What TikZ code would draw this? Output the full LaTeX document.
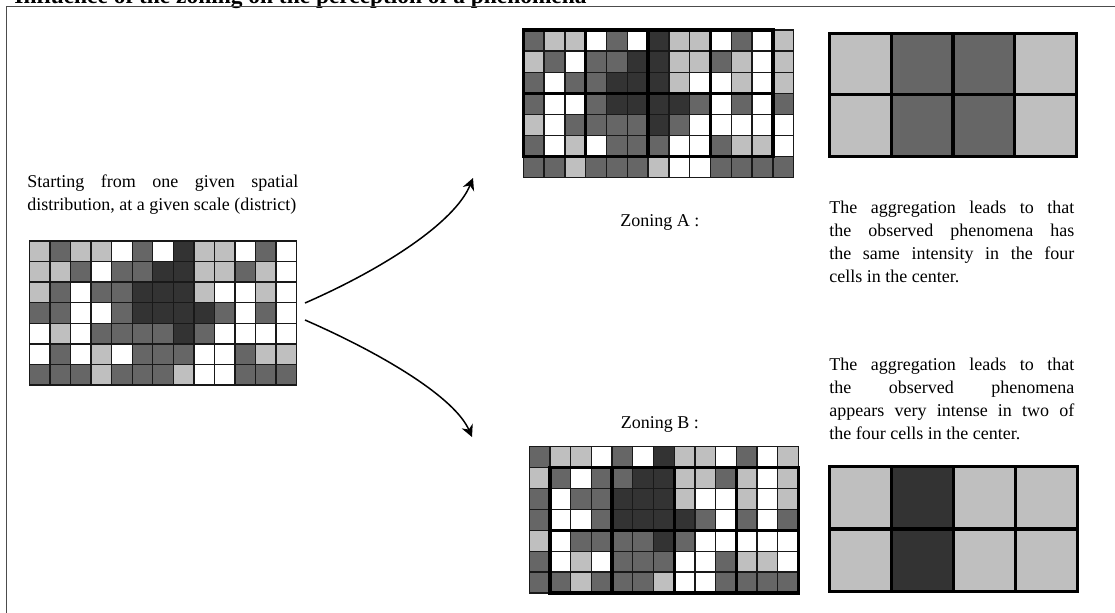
\documentclass[tikz,border=0pt]{standalone}
\usepackage{fontspec}
\setmainfont{Liberation Serif}
\usepackage{xcolor}
\usepackage{tikz}
\usetikzlibrary{arrows.meta}

\definecolor{gL}{gray}{0.75}
\definecolor{gM}{gray}{0.4}
\definecolor{gD}{gray}{0.2}
\definecolor{gW}{gray}{1}

% cell values of the district level, row by row
\newcommand{\basecells}{{L,M,L,L,W,M,W,D,L,L,W,M,W},{L,L,M,W,M,M,D,D,L,L,M,L,W},{L,M,W,M,M,D,D,D,L,W,W,L,W},{M,M,W,W,M,D,D,D,D,M,W,M,W},{W,L,W,M,M,M,M,D,M,W,W,W,W},{W,M,W,L,W,M,M,M,W,W,M,L,L},{M,M,M,L,M,M,M,L,W,W,M,M,M}}
\newcommand{\zonecells}{{M,L,L,W,M,W,D,L,L,W,M,W,L},{L,M,W,M,M,D,D,L,L,M,L,W,L},{M,W,M,M,D,D,D,L,W,W,L,W,L},{M,W,W,M,D,D,D,D,M,W,M,W,M},{L,W,M,M,M,M,D,M,W,W,W,W,W},{M,W,L,W,M,M,M,W,W,M,L,L,W},{M,M,L,M,M,M,L,W,W,M,M,M,M}}

\tikzset{
	cell/.style={draw=black!90, line width=0.65pt},
	block/.style={draw=black, line width=1.7pt},
	bigcell/.style={draw=black, line width=1.6pt},
	txt/.style={font=\fontsize{9}{11.65}\selectfont, inner sep=0pt},
	curvearrow/.style={line width=0.75pt, -{Stealth[length=6pt,width=6pt]}}
}

\begin{document}
\begin{tikzpicture}[x=0.5pt, y=-0.5pt]
		\useasboundingbox (0,0) rectangle (1115,612);
		\clip (0,0) rectangle (1115,612);

		% Title and frame
		\node[anchor=base west, inner sep=0pt, font=\fontsize{11.7}{14}\bfseries\selectfont] (title) at (14,3.5) {Influence of the zoning on the perception of a phenomena};
		\draw[black!70, line width=0.5pt] (6,620) -- (6,6) -- (1120,6);

		% Given distribution
		\node[txt, anchor=north west, text width=135.5pt, align=justify] (start) at (27,174) {Starting from one given spatial\linebreak distribution, at a given scale (district)};
		\begin{scope}[shift={(29.3,241)}, x=10.285pt, y=-10.285pt]
			\foreach \rowcells [count=\j] in \basecells {
				\foreach \c [count=\i] in \rowcells
					\filldraw[cell, fill=g\c] (\i-1,\j-1) rectangle (\i,\j);
			}
		\end{scope}

		% Zoning A
		\begin{scope}[shift={(523.3,30)}, x=10.4pt, y=-10.55pt]
			\foreach \rowcells [count=\j] in \zonecells {
				\foreach \c [count=\i] in \rowcells
					\filldraw[cell, fill=g\c] (\i-1,\j-1) rectangle (\i,\j);
			}
			\draw[block] (0,0) rectangle (12,6);
			\draw[block] (3,0) -- (3,6) (6,0) -- (6,6) (9,0) -- (9,6) (0,3) -- (12,3);
		\end{scope}
		\node[txt, anchor=base west] (zoneA) at (620,226) {Zoning A :};

		% Zoning B
		\begin{scope}[shift={(529.3,446.7)}, x=10.35pt, y=-10.45pt]
			\foreach \rowcells [count=\j] in \zonecells {
				\foreach \c [count=\i] in \rowcells
					\filldraw[cell, fill=g\c] (\i-1,\j-1) rectangle (\i,\j);
			}
			\draw[block] (1,1) rectangle (13,7);
			\draw[block] (4,1) -- (4,7) (7,1) -- (7,7) (10,1) -- (10,7) (1,4) -- (13,4);
		\end{scope}
		\node[txt, anchor=base west] (zoneB) at (620.5,428) {Zoning B :};

		% Aggregated results
		\begin{scope}[shift={(829.3,33.3)}, x=30.9pt, y=-30.7pt]
			\foreach \rowcells [count=\j] in {{L,M,M,L},{L,M,M,L}} {
				\foreach \c [count=\i] in \rowcells
					\filldraw[bigcell, fill=g\c] (\i-1,\j-1) rectangle (\i,\j);
			}
		\end{scope}
		\node[txt, anchor=north west, text width=122.5pt, align=justify] (textA) at (829,200.2) {The aggregation leads to that\linebreak the observed phenomena has\linebreak the same intensity in the four\linebreak cells in the center.};

		\begin{scope}[shift={(829.3,466.7)}, x=31.05pt, y=-31.1pt]
			\foreach \rowcells [count=\j] in {{L,D,L,L},{L,D,L,L}} {
				\foreach \c [count=\i] in \rowcells
					\filldraw[bigcell, fill=g\c] (\i-1,\j-1) rectangle (\i,\j);
			}
		\end{scope}
		\node[txt, anchor=north west, text width=122.5pt, align=justify] (textB) at (829,357.2) {The aggregation leads to that\linebreak the observed phenomena\linebreak appears very intense in two of\linebreak the four cells in the center.};

		% Arrows
		\coordinate (srcA) at (305,303);
		\coordinate (tipA) at (473,178);
		\coordinate (srcB) at (305,320);
		\coordinate (tipB) at (472,437);
		\draw[curvearrow] (srcA) .. controls (385,268) and (455,222) .. (tipA);
		\draw[curvearrow] (srcB) .. controls (385,355) and (455,398) .. (tipB);
	\end{tikzpicture}
\end{document}
